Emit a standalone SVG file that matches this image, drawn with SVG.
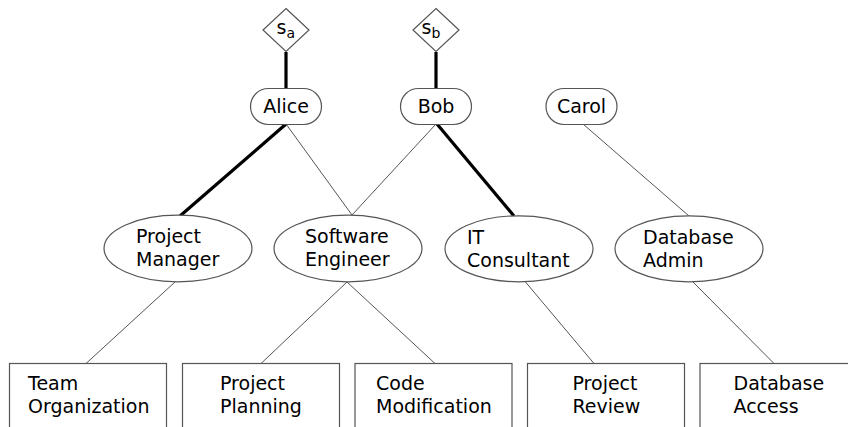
<svg xmlns="http://www.w3.org/2000/svg" width="848" height="427" viewBox="0 0 848 427">
<style>
  .shape { fill: #fff; stroke: #555; stroke-width: 1.2; }
  .thin { stroke: #555; stroke-width: 1; fill: none; }
  .thick { stroke: #000; stroke-width: 3.2; fill: none; }
  text { font-family: "DejaVu Sans", "Liberation Sans", sans-serif; font-size: 19px; fill: #000; }
  .c { text-anchor: middle; }
  .sub { font-size: 14px; }
</style>
<rect width="848" height="427" fill="#fff"/>
<g id="connectors">
  <line class="thick" x1="286" y1="52" x2="286" y2="88"/>
  <line class="thick" x1="436" y1="52" x2="436" y2="88"/>
  <line class="thick" x1="286" y1="124" x2="180" y2="216"/>
  <line class="thin" x1="286" y1="124" x2="352" y2="215"/>
  <line class="thin" x1="436" y1="124" x2="352" y2="215"/>
  <line class="thick" x1="437" y1="124" x2="514" y2="216"/>
  <line class="thin" x1="583" y1="124" x2="689" y2="216"/>
  <line class="thin" x1="175" y1="282" x2="86" y2="363.5"/>
  <line class="thin" x1="347" y1="282" x2="261" y2="363.5"/>
  <line class="thin" x1="347" y1="282" x2="435" y2="363.5"/>
  <line class="thin" x1="525.5" y1="282" x2="594" y2="363.5"/>
  <line class="thin" x1="693" y1="282" x2="774" y2="363.5"/>
</g>
<g id="sa">
  <polygon class="shape" points="286,8.5 309,30 286,51.5 263,30"/>
  <text x="276.5" y="33.5">s<tspan class="sub" dy="4">a</tspan></text>
</g>
<g id="sb">
  <polygon class="shape" points="436,8.5 459,30 436,51.5 413,30"/>
  <text x="421.5" y="33.5">s<tspan class="sub" dy="4">b</tspan></text>
</g>
<g id="alice">
  <rect class="shape" x="250.5" y="88.5" width="71" height="36" rx="18"/>
  <text class="c" x="286" y="113">Alice</text>
</g>
<g id="bob">
  <rect class="shape" x="400.5" y="88.5" width="71" height="36" rx="18"/>
  <text class="c" x="436" y="113">Bob</text>
</g>
<g id="carol">
  <rect class="shape" x="546" y="88.5" width="71" height="36" rx="18"/>
  <text class="c" x="581.5" y="113">Carol</text>
</g>
<g id="project-manager">
  <ellipse class="shape" cx="178" cy="248.5" rx="74" ry="33.3"/>
  <text x="136" y="242.5">Project</text>
  <text x="136" y="265.5">Manager</text>
</g>
<g id="software-engineer">
  <ellipse class="shape" cx="348" cy="248.5" rx="74" ry="33.3"/>
  <text x="305" y="242.5">Software</text>
  <text x="305" y="265.5">Engineer</text>
</g>
<g id="it-consultant">
  <ellipse class="shape" cx="519" cy="248.8" rx="74" ry="33"/>
  <text x="467" y="243.5">IT</text>
  <text x="467" y="266.5">Consultant</text>
</g>
<g id="database-admin">
  <ellipse class="shape" cx="689" cy="248.8" rx="74" ry="33"/>
  <text x="643" y="243.5">Database</text>
  <text x="643" y="266.5">Admin</text>
</g>
<g id="team-organization">
  <rect class="shape" x="9.5" y="363.5" width="157" height="80"/>
  <text x="28" y="390">Team</text>
  <text x="28" y="413">Organization</text>
</g>
<g id="project-planning">
  <rect class="shape" x="182.5" y="363.5" width="157" height="80"/>
  <text x="220" y="390">Project</text>
  <text x="220" y="413">Planning</text>
</g>
<g id="code-modification">
  <rect class="shape" x="355" y="363.5" width="157" height="80"/>
  <text x="376" y="390">Code</text>
  <text x="376" y="413">Modification</text>
</g>
<g id="project-review">
  <rect class="shape" x="527.5" y="363.5" width="157" height="80"/>
  <text x="572.5" y="390">Project</text>
  <text x="572.5" y="413">Review</text>
</g>
<g id="database-access">
  <rect class="shape" x="700" y="363.5" width="157" height="80"/>
  <text x="733.5" y="390">Database</text>
  <text x="733.5" y="413">Access</text>
</g>
</svg>
